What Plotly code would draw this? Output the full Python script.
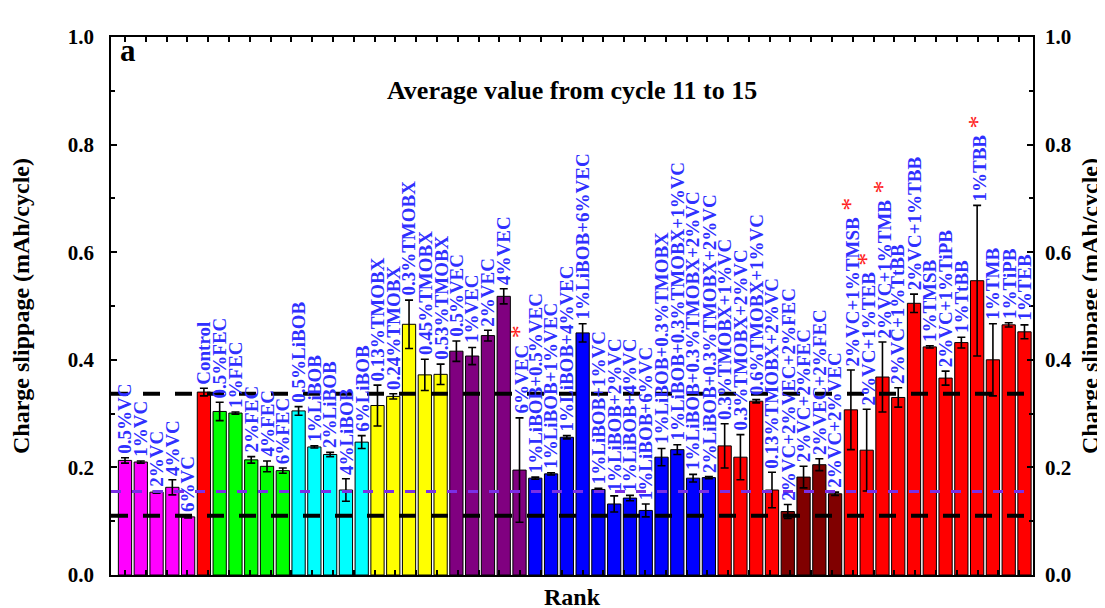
import plotly.graph_objects as go

# ---------------- data ----------------
names = ["0.5%VC", "1%VC", "2%VC", "4%VC", "6%VC",
         "Control",
         "0.5%FEC", "1%FEC", "2%FEC", "4%FEC", "6%FEC",
         "0.5%LiBOB", "1%LiBOB", "2%LiBOB", "4%LiBOB", "6%LiBOB",
         "0.13%TMOBX", "0.24%TMOBX", "0.3%TMOBX", "0.45%TMOBX", "0.53%TMOBX",
         "0.5%VEC", "1%VEC", "2%VEC", "4%VEC", "6%VEC",
         "1%LiBOB+0.5%VEC", "1%LiBOB+1%VEC", "1%LiBOB+4%VEC", "1%LiBOB+6%VEC",
         "1%LiBOB+1%VC", "1%LiBOB+2%VC", "1%LiBOB+4%VC", "1%LiBOB+6%VC",
         "1%LiBOB+0.3%TMOBX", "1%LiBOB+0.3%TMOBX+1%VC", "1%LiBOB+0.3%TMOBX+2%VC",
         "2%LiBOB+0.3%TMOBX+2%VC",
         "0.3%TMOBX+1%VC", "0.3%TMOBX+2%VC", "0.6%TMOBX+1%VC", "0.13%TMOBX+2%VC",
         "2%VC+2%VEC+2%FEC", "2%VC+2%FEC", "2%VEC+2%FEC", "2%VC+2%VEC",
         "2%VC+1%TMSB", "2%VC+1%TEB", "2%VC+1%TMB", "2%VC+1%TtBB", "2%VC+1%TBB",
         "1%TMSB", "2%VC+1%TiPB", "1%TtBB", "1%TBB", "1%TMB", "1%TiPB", "1%TEB"]

values = [0.213, 0.210, 0.154, 0.163, 0.108,
          0.340,
          0.304, 0.301, 0.214, 0.202, 0.194,
          0.305, 0.238, 0.224, 0.158, 0.247,
          0.315, 0.332, 0.466, 0.372, 0.373,
          0.416, 0.407, 0.445, 0.518, 0.195,
          0.180, 0.188, 0.256, 0.450,
          0.159, 0.132, 0.143, 0.120,
          0.219, 0.233, 0.180, 0.181,
          0.240, 0.219, 0.323, 0.158,
          0.118, 0.182, 0.205, 0.151,
          0.307, 0.232, 0.368, 0.330, 0.505,
          0.424, 0.366, 0.432, 0.547, 0.400, 0.465, 0.452]

errors = [0.005, 0.002, 0.002, 0.014, 0.002,
          0.007,
          0.017, 0.002, 0.006, 0.010, 0.005,
          0.008, 0.002, 0.004, 0.021, 0.012,
          0.038, 0.005, 0.045, 0.029, 0.019,
          0.019, 0.016, 0.010, 0.014, 0.097,
          0.002, 0.002, 0.003, 0.017,
          0.002, 0.015, 0.005, 0.012,
          0.016, 0.009, 0.007, 0.002,
          0.041, 0.042, 0.003, 0.033,
          0.013, 0.020, 0.011, 0.003,
          0.074, 0.076, 0.065, 0.018, 0.017,
          0.002, 0.013, 0.010, 0.140, 0.067, 0.004, 0.013]

group_sizes = [5, 1, 5, 5, 5, 5, 12, 4, 4, 12]
group_colors = ["#ff00ff", "#ff0000", "#00ff00", "#00ffff", "#ffff00",
                "#800080", "#0000ff", "#ff0000", "#800000", "#ff0000"]

starred = ["6%VEC", "2%VC+1%TMSB", "2%VC+1%TEB", "2%VC+1%TMB", "1%TBB"]

ref_black = [0.337, 0.110]
ref_purple = [0.155]

yticks = [0.0, 0.2, 0.4, 0.6, 0.8, 1.0]

# ---------------- styling ----------------
FONT = "Liberation Serif"
LABEL_BLUE = "#3030ff"

colors = []
for c, n in zip(group_colors, group_sizes):
    colors += [c] * n

fig = go.Figure()
fig.add_trace(go.Bar(
    x=names, y=values,
    marker=dict(color=colors, line=dict(color="black", width=1)),
    error_y=dict(type="data", array=errors, color="black", thickness=1.6, width=4),
    width=0.84, showlegend=False, hoverinfo="x+y",
))
# helper traces so that the mirrored right axis and the top/bottom tick axis are drawn
fig.add_trace(go.Scatter(x=[names[0]], y=[0], yaxis="y2", mode="markers",
                         marker=dict(opacity=0), showlegend=False, hoverinfo="skip"))
fig.add_trace(go.Scatter(x=[0], y=[0], xaxis="x2", mode="markers",
                         marker=dict(opacity=0), showlegend=False, hoverinfo="skip"))

annotations = []
for name, v, e in zip(names, values, errors):
    txt = "<b>" + name + "</b>"
    if name in starred:
        txt += '<span style="color:#ff2020;font-size:26px"> *</span>'
    annotations.append(dict(
        x=name, y=v + e, xref="x", yref="y", text=txt, textangle=-90,
        showarrow=False, xanchor="center", yanchor="bottom", yshift=2,
        font=dict(family=FONT, size=19, color=LABEL_BLUE),
    ))

annotations.append(dict(
    x=0.5, y=0.9, xref="paper", yref="paper",
    text="<b>Average value from cycle 11 to 15</b>", showarrow=False,
    xanchor="center", yanchor="middle",
    font=dict(family=FONT, size=26, color="black")))
annotations.append(dict(
    x=0.008, y=1.012, xref="paper", yref="paper", text="<b>a</b>", showarrow=False,
    xanchor="left", yanchor="top",
    font=dict(family=FONT, size=31, color="black")))

shapes = []
for yv in ref_black:
    shapes.append(dict(type="line", xref="paper", yref="y", x0=0, x1=1, y0=yv, y1=yv,
                       line=dict(color="black", width=4, dash="17px,15px"), layer="above"))
for yv in ref_purple:
    shapes.append(dict(type="line", xref="paper", yref="y", x0=0, x1=1, y0=yv, y1=yv,
                       line=dict(color="#7a2fe6", width=3, dash="10px,11px"), layer="above"))

tickfont = dict(family=FONT, size=21, color="black", weight="bold")
titlefont = dict(family=FONT, size=24, color="black", weight="bold")

yaxis_common = dict(
    range=[0, 1.0], tickvals=yticks, ticktext=[f"<b>{t:.1f}</b>" for t in yticks],
    ticks="inside", ticklen=6, tickwidth=1.5, tickcolor="black",
    minor=dict(ticks="inside", dtick=0.1, ticklen=4, tickwidth=1.5, tickcolor="black"),
    showgrid=False, zeroline=False, tickfont=tickfont, ticklabelstandoff=11,
)

fig.update_layout(
    width=1105, height=608,
    margin=dict(l=103, r=80, t=29, b=41),
    paper_bgcolor="white", plot_bgcolor="white",
    bargap=0.16,
    xaxis=dict(type="category", range=[-0.887, 57.54], showline=True, linecolor="black",
               linewidth=1.5, mirror=True, ticks="", showticklabels=False, showgrid=False,
               title=dict(text="<b>Rank</b>", font=dict(family=FONT, size=24, color="black"),
                          standoff=12), automargin=False),
    xaxis2=dict(overlaying="x", anchor="y", side="bottom", range=[-0.67, 43.66], dtick=1, tick0=0,
                ticks="inside", ticklen=5, tickwidth=2, tickcolor="black", mirror="ticks",
                showline=True, linecolor="black", linewidth=1.5,
                showticklabels=False, showgrid=False, zeroline=False),
    yaxis=dict(**yaxis_common, showline=True, linecolor="black", linewidth=1.5, mirror=True,
               title=dict(text="<b>Charge slippage (mAh/cycle)</b>", font=titlefont, standoff=32),
               automargin=False),
    yaxis2=dict(**yaxis_common, overlaying="y", side="right", anchor="x", showline=False,
                title=dict(text="<b>Charge slippage (mAh/cycle)</b>", font=titlefont, standoff=10),
                automargin=False),
    annotations=annotations,
    shapes=shapes,
    font=dict(family=FONT),
)

fig.write_html("out.html")
